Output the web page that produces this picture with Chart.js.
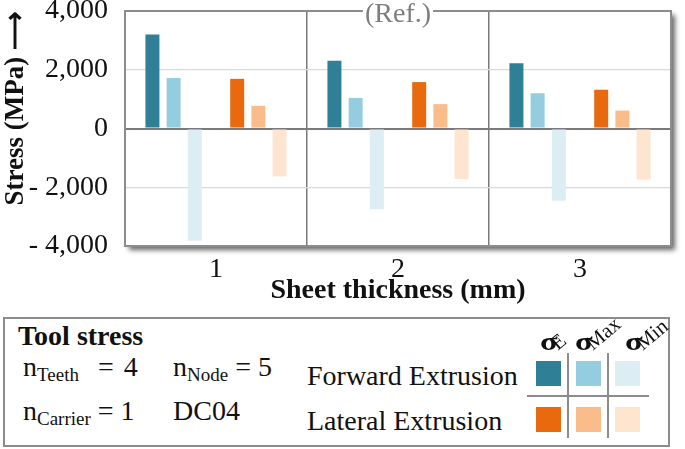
<!DOCTYPE html>
<html>
<head>
<meta charset="utf-8">
<script src="https://cdn.jsdelivr.net/npm/chart.js@4.4.0/dist/chart.umd.min.js"></script>
<style>
  body { margin: 0; width: 685px; height: 449px; position: relative; overflow: hidden; background: #fff;
         font-family: "Liberation Serif", "Times New Roman", serif; color: #111; }
  #chart { position: absolute; left: 0; top: 0; }
  #heads { position: absolute; left: 520px; top: 312px; }
  .box { position: absolute; left: 3px; top: 317px; width: 667px; height: 130px; border: 2px solid #8c8c8c; box-sizing: border-box; }
  .t { position: absolute; line-height: 1; white-space: nowrap; font-size: 28px; }
  .t sub { font-size: 19px; vertical-align: -5px; line-height: 0; }
  .sw { position: absolute; width: 25px; height: 25px; }
  .ln { position: absolute; background: #8c8c8c; }
</style>
</head>
<body>
<canvas id="chart" width="685" height="310"></canvas>

<div class="box"></div>
<div class="t" style="left:18px;top:322px;font-weight:bold">Tool stress</div>
<div class="t" style="left:23px;top:353px">n<sub>Teeth</sub></div>
<div class="t" style="left:98px;top:353px;word-spacing:3px">= 4</div>
<div class="t" style="left:173px;top:353px">n<sub>Node</sub> = 5</div>
<div class="t" style="left:23px;top:397px">n<sub>Carrier</sub> = 1</div>
<div class="t" style="left:173px;top:397px">DC04</div>

<div class="t" style="left:307px;top:362px">Forward Extrusion</div>
<div class="t" style="left:307px;top:407px">Lateral Extrusion</div>

<div class="ln" style="left:567px;top:353px;width:2px;height:85px"></div>
<div class="ln" style="left:607px;top:353px;width:2px;height:85px"></div>
<div class="ln" style="left:527px;top:395px;width:122px;height:2px"></div>
<div id="swatches"></div>
<canvas id="heads" width="160" height="48"></canvas>

<script>
const categories = ["1", "2", "3"];

const forwardE   = [3200, 2310, 2220];
const forwardMax = [1720, 1040, 1200];
const forwardMin = [-3820, -2750, -2460];
const lateralE   = [1690, 1580, 1320];
const lateralMax = [770, 830, 610];
const lateralMin = [-1630, -1720, -1740];

const yTicks = [4000, 2000, 0, -2000, -4000];

const headers = [["σ", "E"], ["σ", "Max"], ["σ", "Min"]];

const colors = {
  fE: "#2f7f97", fMax: "#93cddf", fMin: "#dcedf3",
  lE: "#e8690e", lMax: "#fbbc8c", lMin: "#fde5d0"
};

// legend swatches
const swatchPos = [
  [536, 361, colors.fE], [576, 361, colors.fMax], [615, 361, colors.fMin],
  [536, 407, colors.lE], [576, 407, colors.lMax], [615, 407, colors.lMin]
];
const swHolder = document.getElementById("swatches");
swatchPos.forEach(([x, y, c]) => {
  const d = document.createElement("div");
  d.className = "sw";
  d.style.left = x + "px";
  d.style.top = y + "px";
  d.style.background = c;
  swHolder.appendChild(d);
});

// column headers of the legend: upright sigma, slanted subscript
(function drawHeads() {
  const ctx = document.getElementById("heads").getContext("2d");
  const starts = [20, 55, 105]; // x inside the small canvas
  const base = 38;
  ctx.fillStyle = "#111";
  headers.forEach(([sym, sub], i) => {
    ctx.save();
    ctx.translate(starts[i], base);
    ctx.scale(1.25, 1);
    ctx.font = 'bold 26px "Liberation Serif", serif';
    ctx.fillText(sym, 0, 0);
    ctx.restore();
    ctx.font = 'bold 26px "Liberation Serif", serif';
    const w = ctx.measureText(sym).width * 1.25;
    ctx.save();
    ctx.translate(starts[i] + w, base + 1);
    ctx.rotate(-40 * Math.PI / 180);
    ctx.font = '21px "Liberation Serif", serif';
    ctx.fillText(sub, 0, 0);
    ctx.restore();
  });
})();

const fmt = v => (v < 0 ? "- " : "") + Math.abs(v).toLocaleString("en-US");

const framePlugin = {
  id: "frame",
  beforeDraw(chart) {
    const { ctx, chartArea: a } = chart;
    ctx.save();
    ctx.shadowColor = "rgba(0,0,0,0.6)";
    ctx.shadowBlur = 5;
    ctx.shadowOffsetX = 4;
    ctx.shadowOffsetY = 4;
    ctx.fillStyle = "#fff";
    ctx.fillRect(a.left, a.top, a.width, a.height);
    ctx.restore();
  },
  afterDraw(chart) {
    const { ctx, chartArea: a } = chart;
    ctx.save();
    ctx.strokeStyle = "#8c8c8c";
    ctx.lineWidth = 2;
    ctx.strokeRect(a.left, a.top, a.width, a.height);

    // "(Ref.)" marker on top of the middle category
    const x = chart.scales.x.getPixelForValue(1);
    ctx.font = '28px "Liberation Serif", serif';
    const w = ctx.measureText("(Ref.)").width;
    ctx.fillStyle = "#fff";
    ctx.fillRect(x - w / 2 - 2, a.top - 2, w + 4, 6);
    ctx.fillStyle = "#7d7d7d";
    ctx.textAlign = "center";
    ctx.textBaseline = "middle";
    ctx.fillText("(Ref.)", x, a.top + 4);
    ctx.restore();
  }
};

const bar = (data, color) => ({ data, backgroundColor: color, borderWidth: 0 });

new Chart(document.getElementById("chart"), {
  type: "bar",
  data: {
    labels: categories,
    datasets: [
      bar(forwardE, colors.fE),
      bar(forwardMax, colors.fMax),
      bar(forwardMin, colors.fMin),
      bar([null, null, null], "rgba(0,0,0,0)"), // gap between the two processes
      bar(lateralE, colors.lE),
      bar(lateralMax, colors.lMax),
      bar(lateralMin, colors.lMin)
    ]
  },
  options: {
    responsive: false,
    animation: false,
    categoryPercentage: 0.815,
    barPercentage: 0.66,
    layout: { padding: { top: 11, right: 14, left: 0, bottom: 0 } },
    plugins: { legend: { display: false }, tooltip: { enabled: false } },
    scales: {
      x: {
        afterFit: s => { s.height = 64; },
        grid: { offset: true, color: "#7a7a7a", lineWidth: 1.5, drawTicks: false },
        border: { display: false },
        ticks: { color: "#111", padding: 10, font: { family: "Liberation Serif", size: 28, lineHeight: 1 } },
        title: {
          display: true, text: "Sheet thickness (mm)", color: "#111",
          padding: { top: 0, bottom: 2 },
          font: { family: "Liberation Serif", size: 28, weight: "bold" }
        }
      },
      y: {
        min: -4000, max: 4000,
        afterFit: s => { s.width = 125; s.paddingTop = 0; s.paddingBottom = 0; },
        afterBuildTicks: s => { s.ticks = yTicks.map(v => ({ value: v })); },
        grid: {
          drawTicks: false,
          color: c => c.tick.value === 0 ? "#7a7a7a" : (Math.abs(c.tick.value) === 4000 ? "rgba(0,0,0,0)" : "#dadada"),
          lineWidth: c => c.tick.value === 0 ? 2 : 1.2
        },
        border: { display: false },
        ticks: {
          color: "#111", padding: 17, callback: v => fmt(v),
          font: { family: "Liberation Serif", size: 28, lineHeight: 1 }
        },
        title: {
          display: true, text: "Stress (MPa) ⟶", align: "end", color: "#111",
          padding: 0,
          font: { family: "Liberation Serif", size: 27, weight: "bold" }
        }
      }
    }
  },
  plugins: [framePlugin]
});
</script>
</body>
</html>
